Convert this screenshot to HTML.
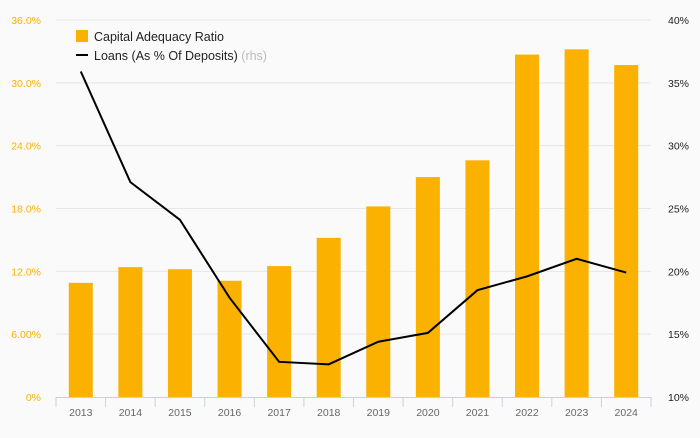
<!DOCTYPE html>
<html><head><meta charset="utf-8"><style>
body{margin:0;background:#fafafa;font-family:"Liberation Sans",sans-serif}
svg text{font-family:"Liberation Sans",sans-serif}
</style></head><body>
<svg id="c" width="700" height="433"></svg>
<script>
const years=["2013","2014","2015","2016","2017","2018","2019","2020","2021","2022","2023","2024"];
const car=[10.9,12.4,12.2,11.1,12.5,15.2,18.2,21.0,22.6,32.7,33.2,31.7];
const loans=[35.9,27.1,24.1,17.9,12.8,12.6,14.4,15.1,18.5,19.6,21.0,19.9];
const leftTicks=[0,6,12,18,24,30,36];
const leftLabels=["0%","6.00%","12.0%","18.0%","24.0%","30.0%","36.0%"];
const rightTicks=[10,15,20,25,30,35,40];
const rightLabels=["10%","15%","20%","25%","30%","35%","40%"];
const NS="http://www.w3.org/2000/svg",svg=document.getElementById('c');
const x0=56,x1=651,yTop=20,yBot=397;
const step=(x1-x0)/years.length;
const xc=i=>x0+step*(i+0.5);
const yl=v=>yBot-(v/36)*(yBot-yTop);
const yr=v=>yBot-((v-10)/30)*(yBot-yTop);
function mk(t,a,p){const e=document.createElementNS(NS,t);for(const k in a)e.setAttribute(k,a[k]);(p||svg).appendChild(e);return e;}
leftTicks.forEach((t,i)=>{
 if(i>0){const g=mk('line',{x1:x0,x2:x1,y1:yl(t),y2:yl(t),stroke:'#e6e6e6'});
 
 }
 const l=mk('text',{x:41,y:yl(t)+4,'text-anchor':'end','font-size':10.5,fill:'#f9b000'});l.textContent=leftLabels[i];
 
 
});
rightTicks.forEach((t,i)=>{
 const l=mk('text',{x:689,y:yr(t)+4,'text-anchor':'end','font-size':10.5,fill:'#222'});l.textContent=rightLabels[i];
 
 
});
car.forEach((v,i)=>{
 const b=mk('rect',{x:xc(i)-12,y:yl(v),width:24,height:yBot-yl(v),fill:'#fbb100'});
 
 
});
const ax=mk('line',{x1:x0,x2:x1,y1:yBot+0.5,y2:yBot+0.5,stroke:'#c8d2e0'});


years.forEach((y,i)=>{
 const tx=x0+step*i;
 mk('line',{x1:tx,x2:tx,y1:yBot,y2:yBot+10,stroke:'#c8d2e0'});
 const l=mk('text',{x:xc(i),y:416,'text-anchor':'middle','font-size':10.5,fill:'#666'});l.textContent=y;
 
 
});
mk('line',{x1:x1,x2:x1,y1:yBot,y2:yBot+10,stroke:'#c8d2e0'});
const pl=mk('polyline',{points:loans.map((v,i)=>xc(i)+','+yr(v)).join(' '),fill:'none',stroke:'#000','stroke-width':2});


const lg=mk('g',{});


mk('rect',{x:76,y:30,width:12,height:12,fill:'#fbb100'},lg);
let t1=mk('text',{x:94,y:41,'font-size':12.5,fill:'#222'},lg);t1.textContent='Capital Adequacy Ratio';
mk('line',{x1:76,x2:88,y1:55,y2:55,stroke:'#000','stroke-width':2},lg);
let t2=mk('text',{x:94,y:60,'font-size':12.5,fill:'#222'},lg);t2.innerHTML='Loans (As % Of Deposits) <tspan fill="#bbb">(rhs)</tspan>';
</script>
</body></html>
